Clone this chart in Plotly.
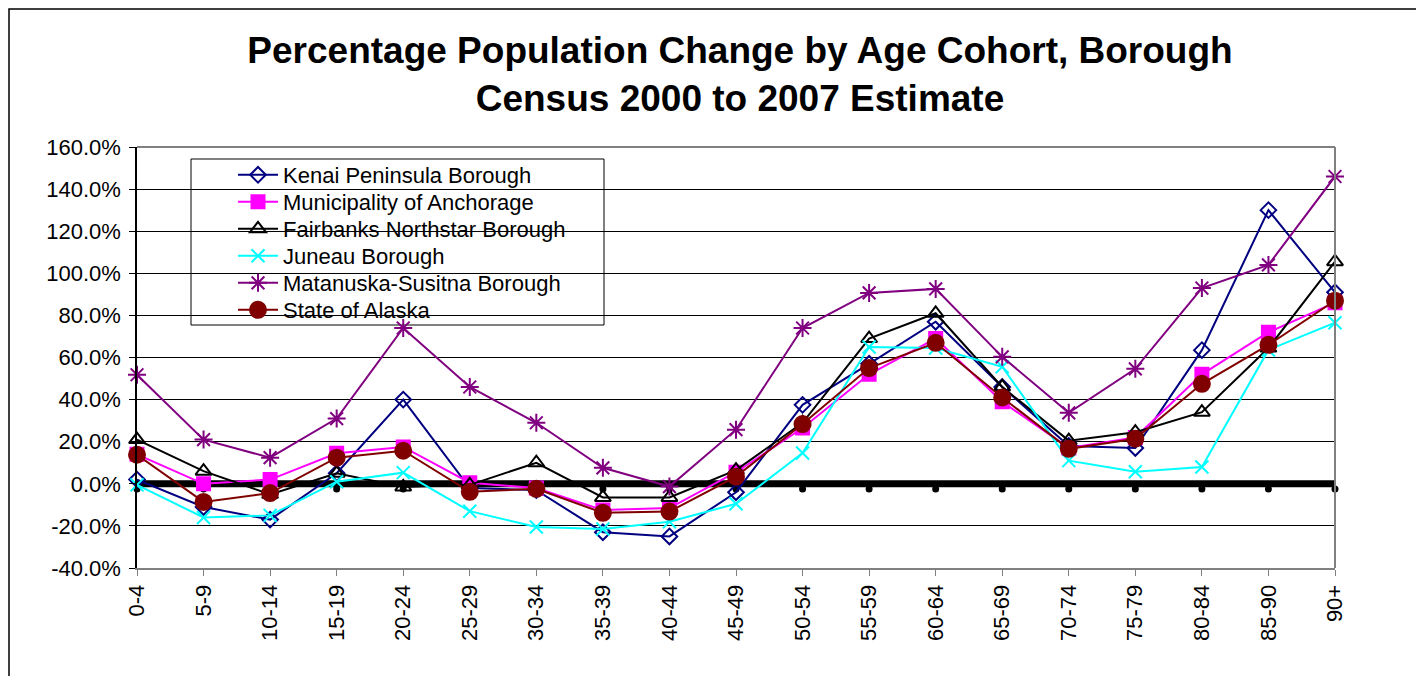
import plotly.graph_objects as go

categories = ["0-4", "5-9", "10-14", "15-19", "20-24", "25-29", "30-34", "35-39", "40-44",
              "45-49", "50-54", "55-59", "60-64", "65-69", "70-74", "75-79", "80-84", "85-90", "90+"]

kenai = [2, -11, -17, 5, 40, -2, -3, -23, -25, -4, 37.5, 57, 77, 46, 18, 17, 63.5, 130, 91]
anchorage = [14, 0, 2, 14.5, 17.5, 0.5, -2, -12.5, -11.5, 5.5, 26.5, 52, 69, 39, 17, 22, 52, 72, 86]
fairbanks = [21, 6, -5, 5, -1.5, -0.5, 10, -6.5, -6.5, 6.5, 29, 69, 81, 46, 20.5, 24.5, 34, 64.5, 105.5]
juneau = [-0.5, -16, -15, 1, 5.3, -13, -20.5, -21.5, -18, -9.5, 14.6, 65, 64.5, 55.6, 11, 5.7, 8, 63.6, 76.5]
matsu = [51.8, 21, 12.4, 31, 74, 46, 29, 7.6, -1.3, 25.7, 74, 90.7, 92.6, 60.3, 33.7, 54.6, 93, 104, 146]
state = [13.8, -8.6, -4.4, 12.4, 15.7, -3.8, -2.4, -13.8, -13.2, 3.4, 28.4, 55, 67, 41, 16.6, 21.4, 47.5, 66, 87]
zero_line = [0, 0, 0, 0, 0, 0, 0, 0, 0, 0, 0, 0, 0, 0, 0, 0, 0, 0, 0]
zero_dots = [-2.5, -2.5, -2.5, -2.5, -2.5, -2.5, -2.5, -2.5, -2.5, -2.5,
             -2.5, -2.5, -2.5, -2.5, -2.5, -2.5, -2.5, -2.5, -2.5]

y_ticks = [-40, -20, 0, 20, 40, 60, 80, 100, 120, 140, 160]
y_labels = ["-40.0%", "-20.0%", "0.0%", "20.0%", "40.0%", "60.0%", "80.0%",
            "100.0%", "120.0%", "140.0%", "160.0%"]

series = [
    ("Kenai Peninsula Borough", kenai, "#000080", "diamond-open", 12),
    ("Municipality of Anchorage", anchorage, "#FF00FF", "square", 13),
    ("Fairbanks Northstar Borough", fairbanks, "#000000", "triangle-up-open", 14),
    ("Juneau Borough", juneau, "#00FFFF", "x-thin-open", 13),
    ("Matanuska-Susitna Borough", matsu, "#800080", "asterisk-open", 15),
    ("State of Alaska", state, "#800000", "circle", 16),
]

FONT = "Arial, Liberation Sans, sans-serif"

# page has an 8px body margin: figure coords = screen coords - 8
OFF = 8
W, H = 1424 - OFF, 676 - OFF
L, R, T, B = 137 - OFF, 1335 - OFF, 147 - OFF, 568 - OFF


def px(x):
    return (x - OFF - L) / (R - L)


def py(y):
    return (B - (y - OFF)) / (B - T)


fig = go.Figure()

fig.add_trace(go.Scatter(x=categories, y=zero_dots, mode="markers",
                         marker=dict(symbol="circle", size=7, color="black"),
                         showlegend=False, cliponaxis=False, hoverinfo="skip"))
fig.add_trace(go.Scatter(x=categories, y=zero_line, mode="lines",
                         line=dict(color="black", width=7),
                         showlegend=False, cliponaxis=False, hoverinfo="skip"))

legends = {}
for i, (name, vals, color, sym, size) in enumerate(series):
    key = "legend" if i == 0 else f"legend{i + 1}"
    mk = dict(symbol=sym, size=size, color=color, line=dict(color=color, width=2))
    fig.add_trace(go.Scatter(x=categories, y=vals, mode="lines+markers", name=name,
                             line=dict(color=color, width=2), marker=mk, cliponaxis=False,
                             legend=key))
    legends[key] = dict(x=px(233), y=py(154 + 27 * i), xanchor="left", yanchor="top",
                        bgcolor="rgba(0,0,0,0)", borderwidth=0, font=dict(size=22, family=FONT),
                        itemwidth=40)

shapes = [
    dict(type="rect", xref="paper", yref="paper", x0=px(9), x1=px(1418), y0=py(700), y1=py(9),
         line=dict(color="black", width=1.5), fillcolor="rgba(0,0,0,0)", layer="below"),
    dict(type="line", xref="paper", yref="paper", x0=0, x1=1, y0=1, y1=1,
         line=dict(color="#808080", width=2)),
    dict(type="line", xref="paper", yref="paper", x0=1, x1=1, y0=0, y1=1,
         line=dict(color="#808080", width=2)),
    dict(type="rect", xref="paper", yref="paper", x0=px(191), x1=px(604), y0=py(325), y1=py(159),
         line=dict(color="black", width=1), fillcolor="white", layer="below"),
]

fig.update_layout(
    width=W, height=H,
    margin=dict(l=L, r=W - R, t=T, b=H - B, pad=0),
    paper_bgcolor="white", plot_bgcolor="white",
    font=dict(family=FONT, size=22, color="black"),
    title=dict(text="<b>Percentage Population Change by Age Cohort, Borough<br>Census 2000 to 2007 Estimate</b>",
               x=(740 - OFF) / W, xanchor="center", y=1 - (63 - OFF) / H, yanchor="top",
               font=dict(size=37, color="black", family=FONT)),
    xaxis=dict(type="category", range=[0, 18], tickangle=-90, showgrid=False,
               ticks="outside", ticklen=6, tickcolor="#808080", showline=True,
               linecolor="#808080", linewidth=2, tickfont=dict(size=22), zeroline=False),
    yaxis=dict(range=[-40, 160], tickvals=y_ticks, ticktext=y_labels, showgrid=True,
               gridcolor="#000000", gridwidth=1, ticks="outside", ticklen=6, tickcolor="black",
               showline=True, linecolor="black", linewidth=1.5, zeroline=False,
               tickfont=dict(size=22), ticklabelstandoff=4),
    shapes=shapes,
    showlegend=True,
    **legends,
)

fig.write_html("out.html")
